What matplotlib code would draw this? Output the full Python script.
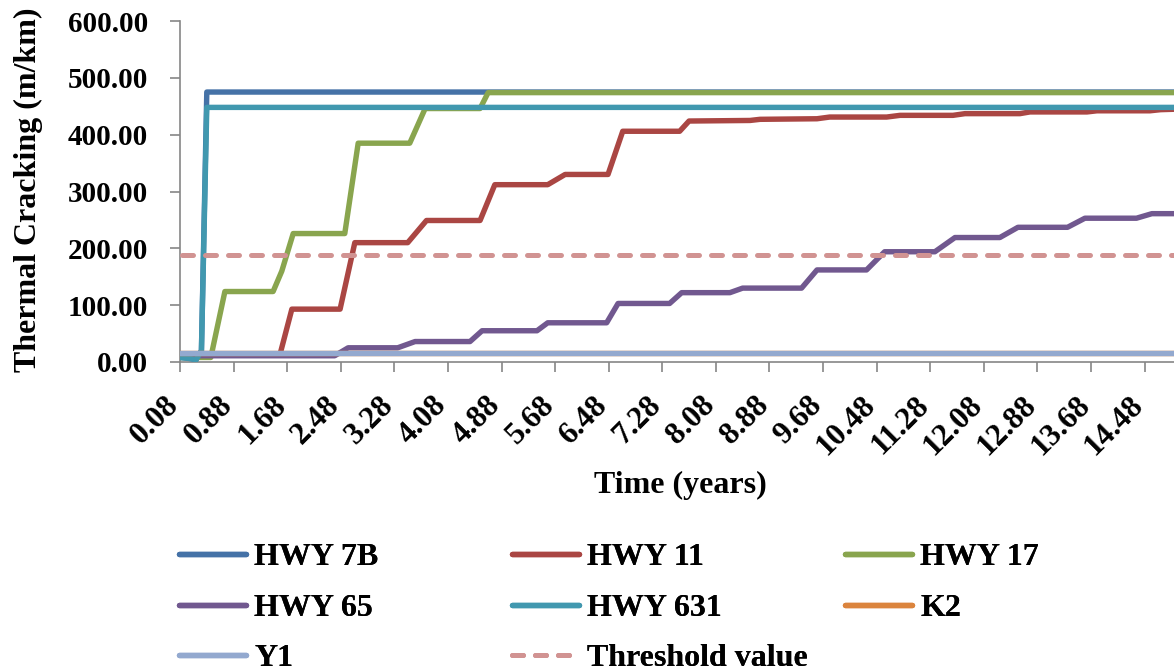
import numpy as np
import matplotlib
matplotlib.use("Agg")
import matplotlib.pyplot as plt

plt.rcParams["font.family"] = ["Liberation Serif", "DejaVu Serif"]
plt.rcParams["font.weight"] = "bold"

# --- data: corner points (years, m/km) ---
T_7B = [0.08, 0.16, 0.24, 0.32, 0.40, 0.48, 15.0]
V_7B = [8, 7, 6, 4, 20, 475, 475]

T_11 = [0.08, 1.57, 1.75, 2.47, 2.69, 3.48, 3.76, 4.56, 4.78, 5.57, 5.83, 6.47, 6.69,
        7.54, 7.68, 8.59, 8.74, 9.59, 9.78, 10.63, 10.83, 11.62, 11.80, 12.62, 12.77,
        13.62, 13.77, 14.56, 14.72, 15.0]
V_11 = [12, 12, 93, 93, 210, 210, 249, 249, 312, 312, 330, 330, 406,
        406, 424, 425, 427, 428, 431, 431, 434, 434, 437, 437, 440,
        440, 442, 442, 444, 445]

T_17 = [0.08, 0.54, 0.75, 1.47, 1.60, 1.77, 2.54, 2.74, 3.51, 3.74, 4.56, 4.68, 15.0]
V_17 = [8, 8, 124, 124, 160, 226, 226, 385, 385, 446, 446, 474, 474]

T_65 = [0.08, 2.39, 2.59, 3.33, 3.59, 4.41, 4.59, 5.41, 5.57, 6.45, 6.62, 7.39, 7.57,
        8.29, 8.48, 9.36, 9.59, 10.33, 10.60, 11.35, 11.65, 12.32, 12.59, 13.33, 13.59,
        14.36, 14.59, 15.0]
V_65 = [11, 11, 25, 25, 36, 36, 55, 55, 69, 69, 103, 103, 122,
        122, 130, 130, 162, 162, 194, 194, 219, 219, 237, 237, 253,
        253, 261, 261]

T_631 = [0.08, 0.16, 0.24, 0.32, 0.40, 0.48, 15.0]
V_631 = [8, 7, 6, 4, 20, 448, 448]

T_K2 = [0.08, 15.0]
V_K2 = [15, 15]

T_Y1 = [0.08, 15.0]
V_Y1 = [16, 16]

THRESHOLD = 189

SERIES = [("HWY 7B", T_7B, V_7B, "#4572A7"),
          ("HWY 11", T_11, V_11, "#AA4643"),
          ("HWY 17", T_17, V_17, "#89A54E"),
          ("HWY 65", T_65, V_65, "#71588F"),
          ("HWY 631", T_631, V_631, "#4198AF"),
          ("K2", T_K2, V_K2, "#DB843D"),
          ("Y1", T_Y1, V_Y1, "#93A9CF")]

XMIN, XMAX = 0.08, 14.92
XTICKS = np.round(np.arange(0.08, 14.49, 0.8), 2)
YTICKS = [0, 100, 200, 300, 400, 500, 600]
FS_X, FS_Y, FS_LAB, FS_LEG = 22.5, 21, 23, 23
GREY = "#868686"

fig = plt.figure(figsize=(11.74, 6.72), dpi=100)
ax = fig.add_axes([180 / 1174, 310 / 672, 994 / 1174, 341 / 672])

handles = {}
for name, t, v, c in SERIES:
    ln, = ax.plot(t, v, color=c, lw=3.9, solid_joinstyle="round", solid_capstyle="round", label=name)
    handles[name] = ln
th, = ax.plot([XMIN - 1, 16], [THRESHOLD, THRESHOLD], color="#D19392", lw=3.6,
              dashes=(2.2, 2.4), dash_capstyle="round", label="Threshold value")
handles["Threshold value"] = th

ax.set_xlim(XMIN, XMAX)
ax.set_ylim(0, 600)
ax.set_xticks(XTICKS)
# baseline anchored so the end of each rotated label sits just under its tick
ax.set_xticklabels([f"{x:.2f}" for x in XTICKS], rotation=45, ha="right", va="baseline",
                   rotation_mode="anchor", fontsize=FS_X, fontweight="bold")
ax.set_yticks(YTICKS)
ax.set_yticklabels([f"{y:.2f}" for y in YTICKS], fontsize=FS_Y, fontweight="bold")
for s in ("top", "right"):
    ax.spines[s].set_visible(False)
for s in ("left", "bottom"):
    ax.spines[s].set_color(GREY)
    ax.spines[s].set_linewidth(1.2)
    ax.spines[s].set_zorder(0.5)
ax.tick_params(axis="both", direction="out", length=7, width=1.2, color=GREY)
ax.tick_params(axis="x", pad=25)
ax.tick_params(axis="y", pad=16)

fig.text(28 / 1174, 1 - 190 / 672, "Thermal Cracking (m/km)", rotation=90, ha="center",
         va="center", fontsize=FS_LAB, fontweight="bold")
fig.text(680 / 1174, 1 - 485 / 672, "Time (years)", ha="center", va="center",
         fontsize=FS_LAB, fontweight="bold")

# legend: three columns laid out in reading order
cols = [["HWY 7B", "HWY 65", "Y1"], ["HWY 11", "HWY 631", "Threshold value"], ["HWY 17", "K2"]]
col_x = [179, 512, 845]
for names, x0 in zip(cols, col_x):
    leg = fig.legend([handles[n] for n in names], names, loc="upper left",
                     bbox_to_anchor=(x0 / 1174, 1 - 543 / 672), frameon=False,
                     prop={"family": "Liberation Serif", "weight": "bold", "size": FS_LEG},
                     handlelength=2.1, handletextpad=0.25, labelspacing=0.66,
                     borderaxespad=0, borderpad=0)
    fig.add_artist(leg)

fig.savefig("out.png", dpi=100)
